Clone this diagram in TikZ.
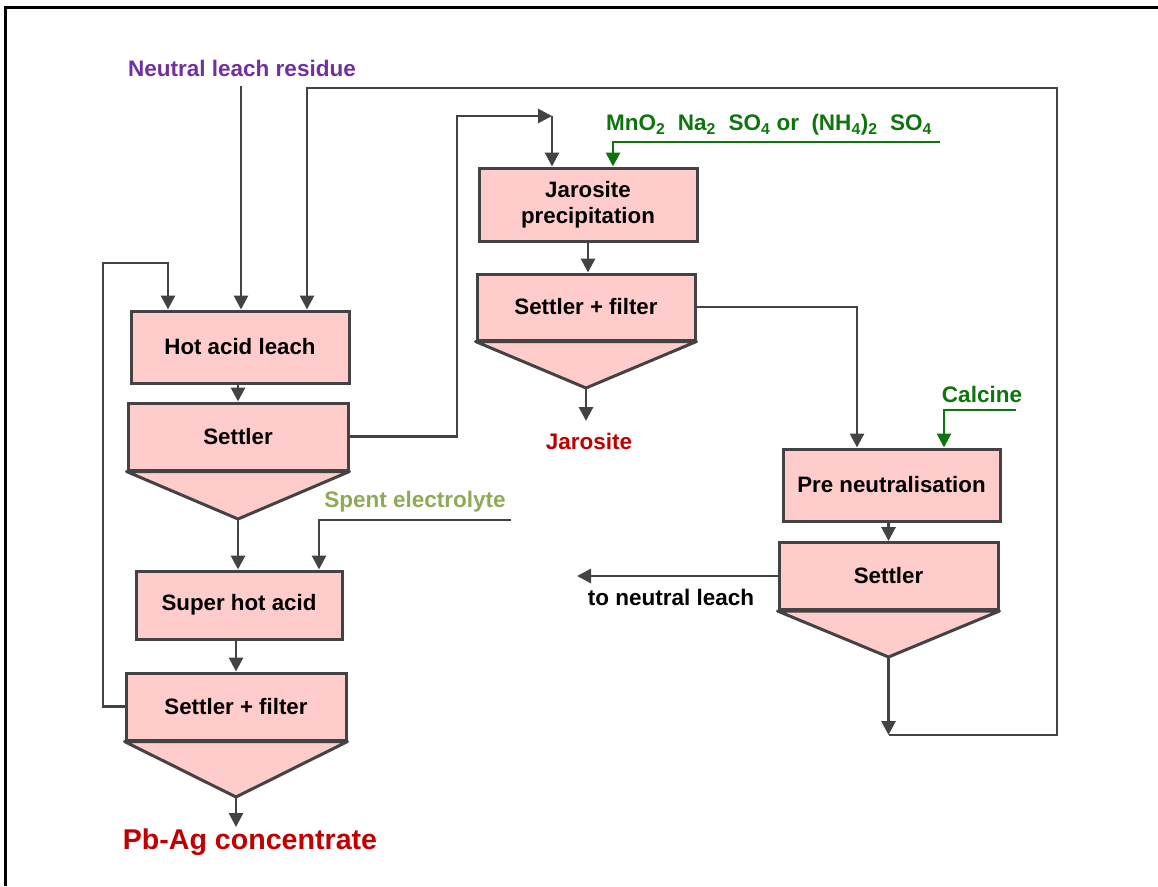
\documentclass[tikz,border=0pt]{standalone}
\usepackage{fontspec}
\setmainfont{Liberation Sans}
\usetikzlibrary{arrows.meta,calc}
\definecolor{boxfill}{HTML}{FFCCCC}
\definecolor{lncol}{HTML}{434343}
\definecolor{purp}{HTML}{7030A0}
\definecolor{dkgreen}{HTML}{0E740E}
\definecolor{olive}{HTML}{8FAA55}
\definecolor{dkred}{HTML}{C00000}
\begin{document}
\begin{tikzpicture}[x=1pt,y=-1pt,
  proc/.style={draw=lncol, fill=boxfill, line width=3pt, inner sep=0pt, align=center,
    font=\fontsize{22.3}{26}\selectfont\bfseries},
  cone/.style={draw=lncol, fill=boxfill, line width=3pt, line join=round},
  flow/.style={draw=lncol, line width=2.9pt, -{Triangle[length=14pt,width=14pt]}},
  flowg/.style={draw=dkgreen, line width=2.9pt, -{Triangle[length=14pt,width=14pt]}},
  lbl/.style={inner sep=0pt, font=\fontsize{22.5}{26}\selectfont\bfseries},
]
\useasboundingbox (0,0) rectangle (1158,886);
% frame
\draw[black, line width=3pt] (5,886) -- (5,7) -- (1158,7);

% boxes
\node[proc, minimum width=218, minimum height=72] (hal) at (240,347) {Hot acid leach};
\node[proc, minimum width=220, minimum height=67] (sL) at (238,436.5) {Settler};
\coordinate (tipL) at (238,519);
\draw[cone] (sL.south west) -- (tipL) -- (sL.south east) -- cycle;
\node[proc, minimum width=206, minimum height=68] (sha) at (239,605) {Super hot acid};
\node[proc, minimum width=220, minimum height=67] (sfL) at (236,706.5) {Settler + filter};
\coordinate (tipL2) at (236,797);
\draw[cone] (sfL.south west) -- (tipL2) -- (sfL.south east) -- cycle;

\node[proc, minimum width=218, minimum height=73] (jp) at (588,204.5) {Jarosite\\precipitation};
\node[proc, minimum width=218, minimum height=66] (sfM) at (586,307) {Settler + filter};
\coordinate (tipM) at (586,388);
\draw[cone] (sfM.south west) -- (tipM) -- (sfM.south east) -- cycle;

\node[proc, minimum width=217, minimum height=72] (pn) at (891.5,485) {Pre neutralisation};
\node[proc, minimum width=219, minimum height=67] (sR) at (888.5,576) {Settler};
\coordinate (tipR) at (888.5,657);
\draw[cone] (sR.south west) -- (tipR) -- (sR.south east) -- cycle;

% labels
\node[lbl, text=purp] (nlr) at (242,68) {Neutral leach residue};
\node[lbl, text=dkgreen] (reag) at (769,125) {MnO\textsubscript{2}\ \ Na\textsubscript{2}\ \ SO\textsubscript{4} or\ \ (NH\textsubscript{4})\textsubscript{2}\ \ SO\textsubscript{4}};
\node[lbl, text=dkgreen] (calc) at (982,394) {Calcine};
\node[lbl, text=olive] (spe) at (415,502) {Spent electrolyte};
\node[lbl, text=dkred] (jar) at (589,441) {Jarosite};
\node[lbl] (tnl) at (671,597) {to neutral leach};
\node[inner sep=0pt, font=\fontsize{28.6}{32}\selectfont\bfseries, text=dkred] (pbag) at (250,842) {Pb-Ag concentrate};

% coordinates for free ends and bends
\coordinate (nlrIn) at (241,86);
\coordinate (r1) at (307,88);
\coordinate (r2) at (1057,88);
\coordinate (loopC) at (888.5,735);
\coordinate (l1) at (103,263);
\coordinate (l2) at (168,263);
\coordinate (m1) at (457,116);
\coordinate (m2) at (552,116);
\coordinate (g1) at (940,142);
\coordinate (g2) at (613,142);
\coordinate (m3) at (857,305);
\coordinate (c1) at (1016,410);
\coordinate (c2) at (944,410);
\coordinate (e1) at (511,520);
\coordinate (e2) at (319,520);
\coordinate (tn) at (577,577);
\coordinate (jarIn) at (586,421);
\coordinate (pbIn) at (236,827);

% connectors
\draw[flow] (nlrIn) -- (nlrIn |- hal.north);
\draw[flow] (sfL.west) -| (l1) -- (l2) -- (l2 |- hal.north);
\draw[flow] (loopC) -- (loopC -| r2) -- (r2) -- (r1) -- (r1 |- hal.north);
\draw[flow] (tipR) -- (loopC);
\draw[flow] (hal.south -| sL.north) -- (sL.north);
\draw[flow] (tipL) -- (tipL |- sha.north);
\draw[flow] (e1) -- (e2) -- (e2 |- sha.north);
\draw[flow] (sha.south -| sfL.north) -- (sfL.north);
\draw[flow] (tipL2) -- (pbIn);
\draw[flow] (sL.east) -| (m1) -- (m2);
\draw[flow] (m2) -- (m2 |- jp.north);
\draw[flowg] (g1) -- (g2) -- (g2 |- jp.north);
\draw[flow] (jp.south) -- (jp.south |- sfM.north);
\draw[flow] (tipM) -- (jarIn);
\draw[flow] (sfM.east) -- (sfM.east -| m3) -- (m3 |- pn.north);
\draw[flowg] (c1) -- (c2) -- (c2 |- pn.north);
\draw[flow] (pn.south -| sR.north) -- (sR.north);
\draw[flow] (sR.west) -- (sR.west -| tn);
\end{tikzpicture}
\end{document}
